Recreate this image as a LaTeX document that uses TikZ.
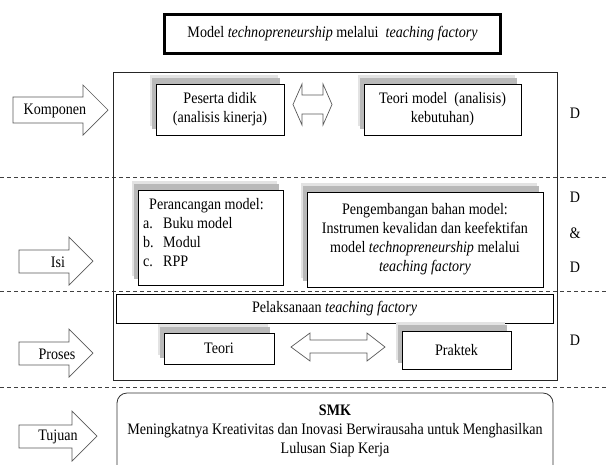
\documentclass[tikz,border=0pt]{standalone}
\usepackage{fontspec}
\setmainfont[FakeStretch=0.88]{Liberation Serif}
\usetikzlibrary{shadows}
\begin{document}
\begin{tikzpicture}[x=1pt,y=-1pt,
  font=\fontsize{16}{19}\selectfont,
  box/.style={draw, line width=0.9pt, fill=white, inner sep=0pt, align=center},
  shbox/.style={box,
    general shadow={fill=gray!22, shadow xshift=-6pt, shadow yshift=9pt},
    general shadow={fill=gray!55, shadow xshift=-4pt, shadow yshift=6pt}},
  blockarrow/.style={draw=black!65, line width=0.7pt, fill=white, line join=miter},
  sep/.style={draw=black!75, dash pattern=on 4pt off 3pt, line width=0.7pt},
  lbl/.style={inner sep=0pt, align=center}]
\useasboundingbox (0,0) rectangle (607,464);
\clip (0,0) rectangle (607,464);

% title
\node[draw, line width=3pt, minimum width=336pt, minimum height=39pt, inner sep=0pt]
  (title) at (332.5,34) {Model \textit{technopreneurship} melalui~ \textit{teaching factory}};

% dashed separators
\coordinate (s1a) at (0,177); \coordinate (s1b) at (607,177);
\coordinate (s2a) at (0,291); \coordinate (s2b) at (607,291);
\coordinate (s3a) at (0,387); \coordinate (s3b) at (607,387);
\draw[sep] (s1a) -- (s1b);
\draw[sep] (s2a) -- (s2b);
\draw[sep] (s3a) -- (s3b);

% main frame
\node[draw=black!85, line width=0.8pt, minimum width=444pt, minimum height=308pt, inner sep=0pt]
  (main) at (335,226) {};

% row 1
\node[shbox, minimum width=128pt, minimum height=51pt] (peserta) at (220,109.5)
  {Peserta didik\\(analisis kinerja)};
\node[shbox, minimum width=157pt, minimum height=51pt] (teorimodel) at (442.5,109.5)
  {Teori model~ (analisis)\\kebutuhan)};
\draw[blockarrow] (293,104.5) -- (302,84) -- (302,95) -- (323,95) -- (323,84) -- (332,104.5)
  -- (323,125) -- (323,114) -- (302,114) -- (302,125) -- cycle;
\node[lbl] (d1) at (575,113) {D};

% row 2
\node[shbox, minimum width=145pt, minimum height=95pt] (peranc) at (210.5,237.5) {};
\node[lbl, anchor=north west, align=left] (perancT) at (143,198)
  {\hspace*{6pt}Perancangan model:\\
   \makebox[20pt][l]{a.}Buku model\\
   \makebox[20pt][l]{b.}Modul\\
   \makebox[20pt][l]{c.}RPP};
\node[shbox, minimum width=236pt, minimum height=95pt] (pengemb) at (425,239.5)
  {Pengembangan bahan model:\\Instrumen kevalidan dan keefektifan\\model \textit{technopreneurship} melalui\\\textit{teaching factory}};
\node[lbl] (d2) at (575,197) {D};
\node[lbl] (amp) at (575,233) {\&};
\node[lbl] (d3) at (575,267) {D};

% row 3
\node[box, minimum width=437pt, minimum height=29pt] (pelaks) at (334.5,308.5)
  {Pelaksanaan \textit{teaching factory}};
\node[shbox, minimum width=110pt, minimum height=31pt] (teori) at (219,348.5) {Teori};
\node[shbox, minimum width=109pt, minimum height=38pt] (praktek) at (456.5,350) {Praktek};
\draw[blockarrow] (291,347) -- (310,333) -- (310,340) -- (367,340) -- (367,333) -- (385,347)
  -- (367,361) -- (367,353) -- (310,353) -- (310,361) -- cycle;
\node[lbl] (d4) at (575,340) {D};

% row 4
\node[draw=black!80, line width=0.8pt, rounded corners=10pt, minimum width=436pt, minimum height=90pt, inner sep=0pt]
  (tujuanbox) at (335,438) {};
\node[lbl] (tujuanT) at (335,431)
  {\textbf{SMK}\\Meningkatnya Kreativitas dan Inovasi Berwirausaha untuk Menghasilkan\\Lulusan Siap Kerja};

% left block arrows
\draw[blockarrow] (13,97) -- (83,97) -- (83,85) -- (108,110) -- (83,135) -- (83,123) -- (13,123) -- cycle;
\node[lbl] (komponen) at (55,111) {Komponen};
\draw[blockarrow] (19,250) -- (69,250) -- (69,237) -- (93,261) -- (69,285) -- (69,273) -- (19,273) -- cycle;
\node[lbl] (isi) at (58,262) {Isi};
\draw[blockarrow] (19,342) -- (69,342) -- (69,329) -- (93,353) -- (69,377) -- (69,365) -- (19,365) -- cycle;
\node[lbl] (proses) at (57,354) {Proses};
\draw[blockarrow] (19,425) -- (72,425) -- (72,411) -- (97,436) -- (72,461) -- (72,448) -- (19,448) -- cycle;
\node[lbl] (tujuan) at (58,437) {Tujuan};
\end{tikzpicture}
\end{document}
